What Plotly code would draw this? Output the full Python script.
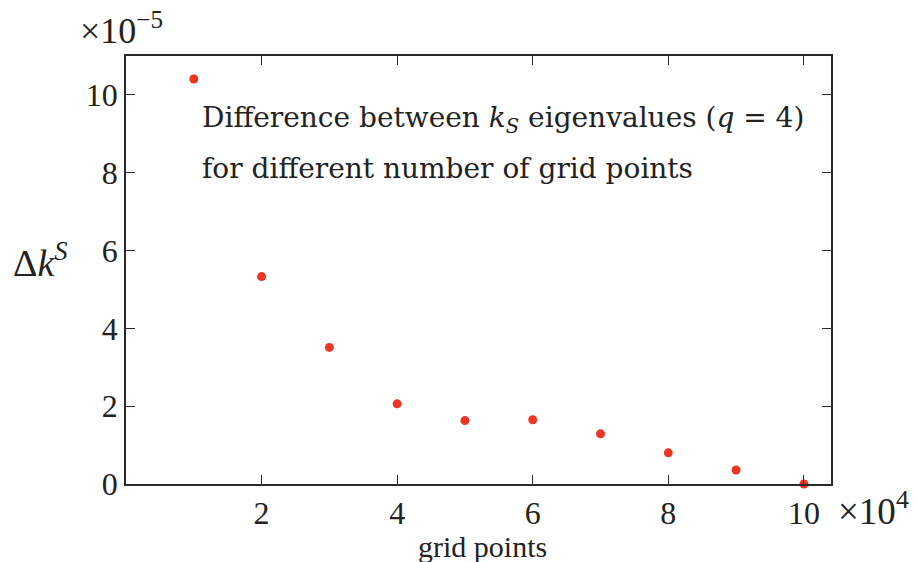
import plotly.graph_objects as go

# grid points (in units of 10^4) and the eigenvalue difference (in units of 10^-5)
grid_points = [1, 2, 3, 4, 5, 6, 7, 8, 9, 10]
delta_k = [10.41, 5.33, 3.51, 2.06, 1.63, 1.65, 1.29, 0.80, 0.36, 0.0]
x_ticks = [2, 4, 6, 8, 10]
y_ticks = [0, 2, 4, 6, 8, 10]

TICK_FONT = "Liberation Serif"
TEXT_FONT = "DejaVu Serif"
AX = "#2a2a2a"
INK = "#222222"

fig = go.Figure()
fig.add_trace(go.Scatter(
    x=grid_points, y=delta_k, mode="markers",
    marker=dict(color="#ee3524", size=9, line=dict(width=0)),
    cliponaxis=False, showlegend=False,
))

axis_common = dict(
    showgrid=False, zeroline=False, showline=True, linecolor=AX, linewidth=1.5,
    mirror="ticks", ticks="inside", ticklen=9, tickwidth=1.2, tickcolor=AX,
    tickfont=dict(family=TICK_FONT, size=32, color=INK),
)

fig.update_layout(
    width=916, height=562,
    margin=dict(l=126, r=85, t=56, b=78),
    paper_bgcolor="white", plot_bgcolor="white",
    font=dict(family=TICK_FONT, color=INK),
    xaxis=dict(range=[0, 10.4], tickvals=x_ticks, ticktext=[str(v) for v in x_ticks], **axis_common),
    yaxis=dict(range=[0, 11], tickvals=y_ticks, ticktext=[str(v) for v in y_ticks], **axis_common),
)

# convert pixel positions on the page into paper coordinates
L, R, T, B = 126, 831, 56, 484
def px(xp):
    return (xp - L) / (R - L)
def py(yp):
    return (B - yp) / (B - T)

def add_text(text, x, y, xanchor="left", yanchor="middle", size=30, family=TEXT_FONT):
    fig.add_annotation(text=text, x=px(x), y=py(y), xref="paper", yref="paper",
                       xanchor=xanchor, yanchor=yanchor, showarrow=False,
                       font=dict(family=family, size=size, color=INK))

add_text("Difference between <i>k</i><sub><i>S</i></sub> eigenvalues (<i>q</i> = 4)", 200, 119, size=28)
add_text("for different number of grid points", 200, 168, size=28)
add_text("grid points", 483, 546, xanchor="center", size=30, family=TICK_FONT)
add_text("Δ<i>k</i><sup><i>S</i></sup>", 40, 260, xanchor="center", size=38, family=TICK_FONT)
add_text("×10<sup>−5</sup>", 78, 28, size=36, family=TICK_FONT)
add_text("×10<sup>4</sup>", 836, 508, size=37, family=TICK_FONT)

fig.write_html("out.html")
